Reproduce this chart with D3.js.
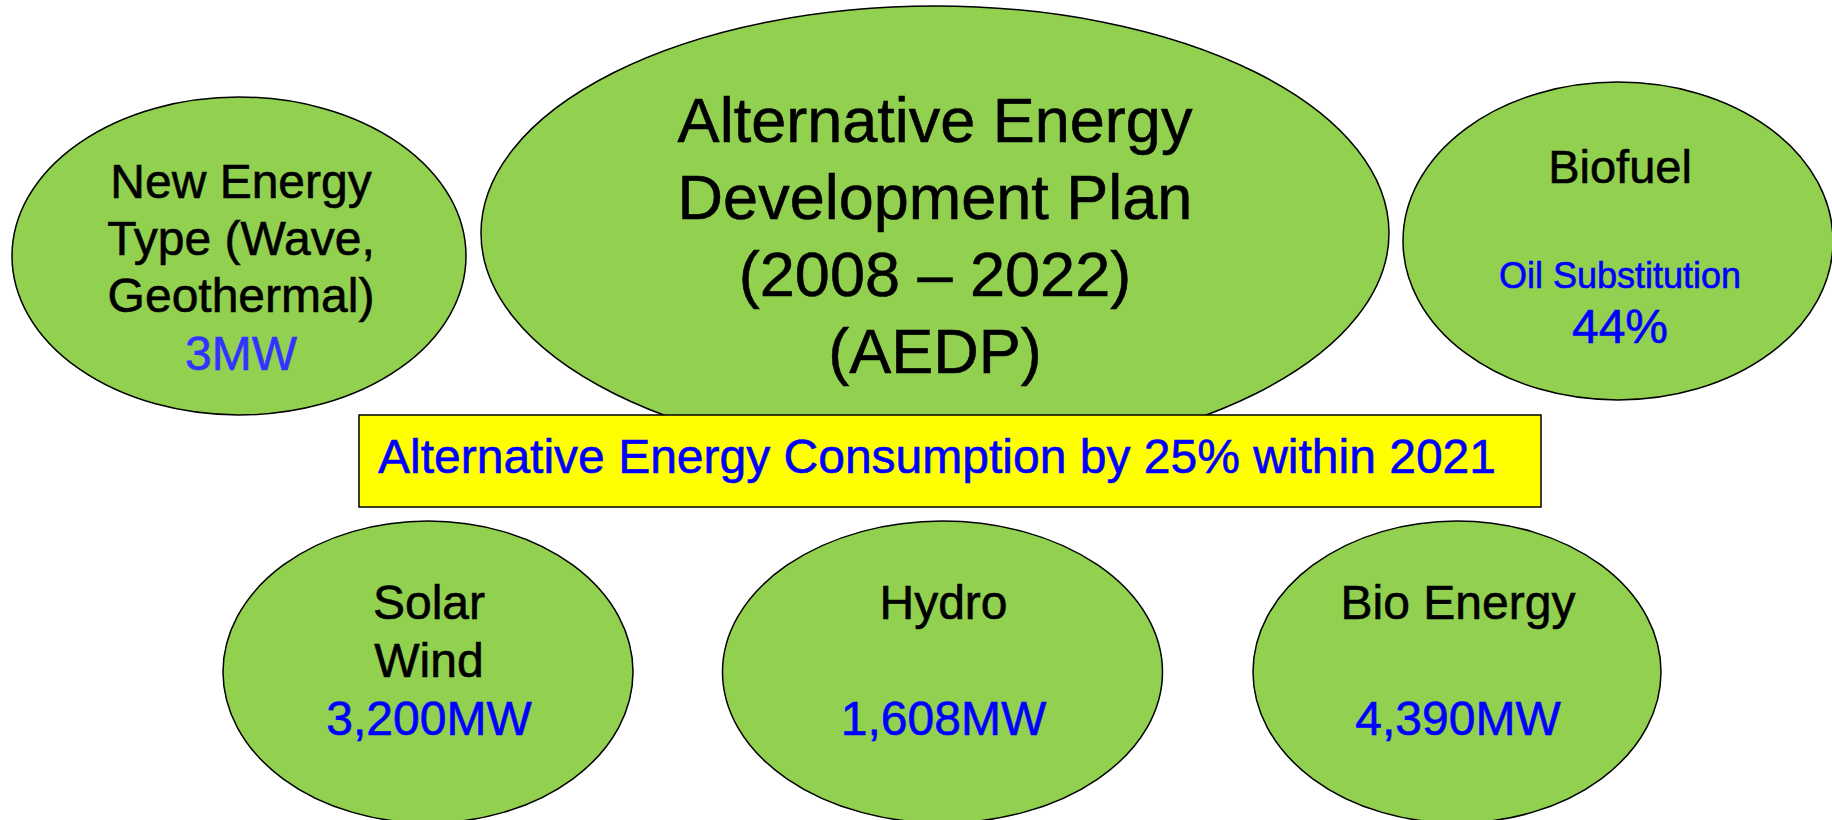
<!DOCTYPE html>
<html>
<head>
<meta charset="utf-8">
<script src="https://cdn.jsdelivr.net/npm/d3@7"></script>
<style>
  html, body { margin: 0; padding: 0; background: #fff; overflow: hidden; }
  text { font-family: "Liberation Sans", Arial, sans-serif; }
</style>
</head>
<body>
<svg id="chart" width="1832" height="820"></svg>
<script>
// plan data
const planTitle = ['Alternative Energy', 'Development Plan', '(2008 – 2022)', '(AEDP)'];
const newEnergyLines = ['New Energy', 'Type (Wave,', 'Geothermal)'];
const newEnergyValue = '3MW';
const biofuelName = 'Biofuel';
const biofuelMetric = 'Oil Substitution';
const biofuelValue = '44%';
const targetText = 'Alternative Energy Consumption by 25% within 2021';
const sourceNames = [['Solar', 'Wind'], ['Hydro'], ['Bio Energy']];
const sourceValues = ['3,200MW', '1,608MW', '4,390MW'];

const GREEN = '#92d050';
const svg = d3.select('#chart');

function bubble(cx, cy, rx, ry)
{
  return svg.append('ellipse')
    .attr('cx', cx).attr('cy', cy)
    .attr('rx', rx).attr('ry', ry)
    .attr('fill', GREEN)
    .attr('stroke', '#000')
    .attr('stroke-width', 1.5);
}

// text in the source is rendered a little heavier than plain regular,
// a thin stroke of the same colour gets it close
function label(x, y, txt, size, color)
{
  return svg.append('text')
    .attr('x', x).attr('y', y)
    .attr('text-anchor', 'middle')
    .attr('font-size', size)
    .attr('fill', color)
    .attr('stroke', color)
    .attr('stroke-width', 0.6)
    .text(txt);
}

// top-left: new energy types
bubble(239, 256, 227, 159);
newEnergyLines.forEach((l, i) => label(241, 198 + i * 57, l, 48, '#000'));
label(241, 370, newEnergyValue, 48, '#3333ff');

// top-right: biofuel
bubble(1618, 241, 215, 159);
label(1620, 183, biofuelName, 47, '#000');
label(1620, 288, biofuelMetric, 36, '#0000ff');
label(1620, 343, biofuelValue, 48, '#0000ff');

// centre: AEDP
bubble(935, 233, 454, 227);
planTitle.forEach((l, i) => label(935, 142 + i * 77, l, 63, '#000'));

// target box
svg.append('rect')
  .attr('x', 359).attr('y', 415)
  .attr('width', 1182).attr('height', 92)
  .attr('fill', '#ffff00')
  .attr('stroke', '#000')
  .attr('stroke-width', 1.5);
label(937, 473, targetText, 48, '#0000ff');

// bottom row of sources
const x = d3.scalePoint()
  .domain(sourceValues)
  .range([428, 1457]);
const rxs = [205, 220, 204];

sourceValues.forEach((v, i) =>
{
  const cx = x(v);
  bubble(cx, 672, rxs[i], 151);
  sourceNames[i].forEach((n, j) => label(cx + 1, 619 + j * 58, n, 48, '#000'));
  label(cx + 1, 735, v, 48, '#0000ff');
});
</script>
</body>
</html>
